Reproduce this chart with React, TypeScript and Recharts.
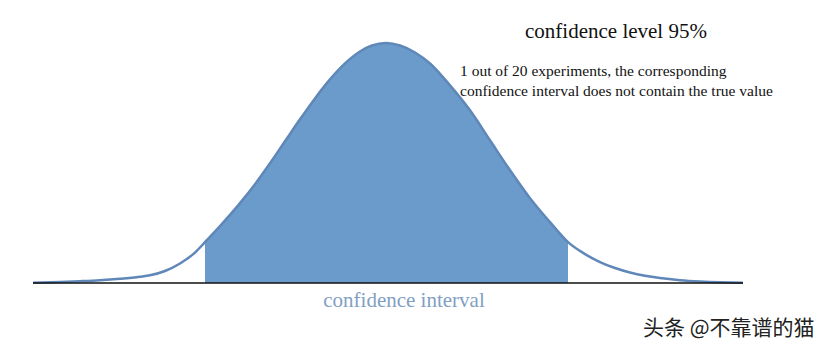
import React from 'react';
import {
  ComposedChart,
  Area,
  Line,
  XAxis,
  YAxis,
  ReferenceLine,
} from 'recharts';

// horizontal positions along the curve, and the curve height read at each
const xs = [33, 60, 80, 100, 120, 140, 150, 165, 180, 195, 205, 220, 240, 255, 270, 285, 300, 315, 330, 345, 360, 372, 386, 400, 415, 430, 450, 470, 490, 510, 530, 550, 568, 585, 600, 615, 630, 645, 660, 680, 700, 720, 743];
const heights = [0.3, 1.0, 1.8, 2.8, 4.3, 6.3, 7.7, 12, 19.5, 30.5, 41, 57, 80, 99, 120, 142, 164, 185, 204, 220, 232, 238, 240.5, 238, 231, 220, 198, 173, 143, 113, 85, 61, 41, 29, 21, 15, 10.5, 7.2, 4.9, 2.8, 1.5, 0.7, 0.3];

// confidence interval bounds
const lower = 205;
const upper = 568;

const title = 'confidence level 95%';
const noteLines = [
  '1 out of 20 experiments, the corresponding',
  'confidence interval does not contain the true value',
];
const bandLabel = 'confidence interval';
const watermark = '头条 @不靠谱的猫';

const chartData = xs.map((x, i) => ({
  x,
  curve: heights[i],
  band: x >= lower && x <= upper ? heights[i] : null,
}));

const App = () => {
  return (
    <div style={{ position: 'absolute', left: 0, top: 0, width: 826, height: 349, background: '#fff' }}>
      <ComposedChart
        width={826}
        height={349}
        data={chartData}
        margin={{ top: 43, right: 83, bottom: 66, left: 33 }}
      >
        <XAxis dataKey="x" type="number" domain={[33, 743]} hide />
        <YAxis type="number" domain={[0, 240]} hide />
        <Area
          type="monotone"
          dataKey="band"
          stroke="none"
          fill="#6b9bcb"
          fillOpacity={1}
          isAnimationActive={false}
        />
        <Line
          type="monotone"
          dataKey="curve"
          stroke="#5f87b8"
          strokeWidth={2.5}
          dot={false}
          isAnimationActive={false}
        />
        <ReferenceLine y={0} stroke="#111" strokeWidth={1.5} />
      </ComposedChart>

      <svg
        width={826}
        height={349}
        style={{ position: 'absolute', left: 0, top: 0, pointerEvents: 'none' }}
      >
        <text x={616} y={38} textAnchor="middle" fontFamily="'Liberation Serif', serif" fontSize={21} fill="#111">
          {title}
        </text>
        {noteLines.map((line, i) => (
          <text key={i} x={460} y={76 + i * 20} fontFamily="'Liberation Serif', serif" fontSize={15.5} fill="#111">
            {line}
          </text>
        ))}
        <text x={404} y={307} textAnchor="middle" fontFamily="'Liberation Serif', serif" fontSize={21} fill="#819fc3">
          {bandLabel}
        </text>
        <text x={643} y={335} fontFamily="'Noto Sans CJK SC', sans-serif" fontSize={21} fill="#222">
          {watermark}
        </text>
      </svg>
    </div>
  );
};

export default App;
